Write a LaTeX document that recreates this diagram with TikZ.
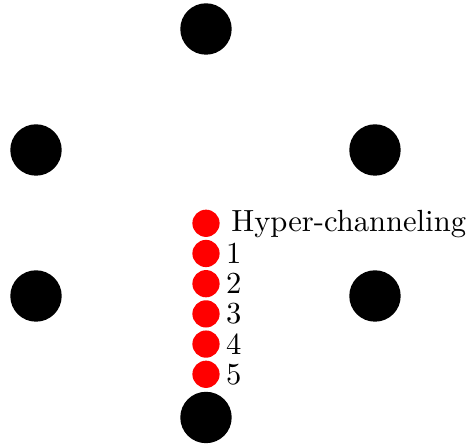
\documentclass[tikz,border=0pt]{standalone}
\begin{document}
\begin{tikzpicture}[x=0.3268pt,y=-0.3268pt,
  big/.style={circle,fill=black,inner sep=0pt,minimum size=16.8pt},
  small/.style={circle,fill=red,inner sep=0pt,minimum size=8.9pt},
  lab/.style={anchor=base west,inner sep=0pt}]
\useasboundingbox (0,0) rectangle (471,447);
\node[big] (t) at (206,29) {};
\node[big] (ul) at (36,150) {};
\node[big] (ur) at (375,150) {};
\node[big] (ll) at (36,296) {};
\node[big] (lr) at (375,296) {};
\node[big] (b) at (206,417.5) {};
\node[small] (r0) at (206,223.3) {};
\node[small] (r1) at (206,253.5) {};
\node[small] (r2) at (206,283.7) {};
\node[small] (r3) at (206,313.9) {};
\node[small] (r4) at (206,344.1) {};
\node[small] (r5) at (206,374.3) {};
\node[lab] (l0) at (230.7,231.8) {Hyper-channeling};
\node[lab] (l1) at (225.5,263.5) {1};
\node[lab] (l2) at (225.5,293.7) {2};
\node[lab] (l3) at (225.5,323.9) {3};
\node[lab] (l4) at (225.5,354.1) {4};
\node[lab] (l5) at (225.5,384.3) {5};
\end{tikzpicture}
\end{document}
